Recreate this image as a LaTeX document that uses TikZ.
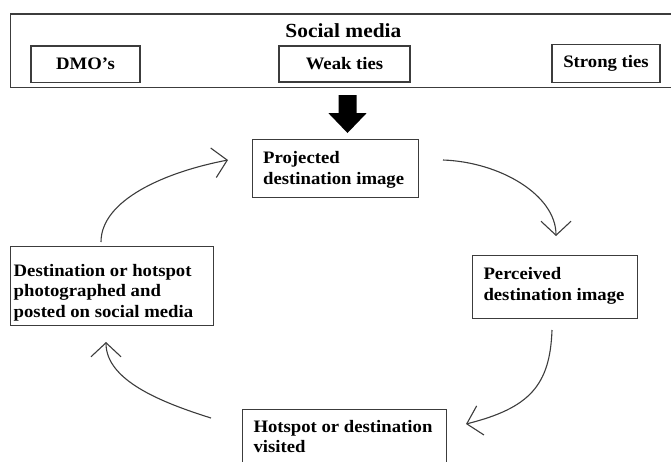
\documentclass[tikz,border=0pt]{standalone}
\usepackage{fontspec}
\setmainfont{Liberation Serif}[FakeStretch=1.07]
\usetikzlibrary{arrows.meta}
\definecolor{edge}{HTML}{3C3C3C}
\begin{document}
\begin{tikzpicture}[x=1pt,y=-1pt,
  frame/.style={draw=edge, line width=1.3pt, rectangle, inner sep=0pt},
  boxtxt/.style={inner sep=0pt, align=left, anchor=north west,
    font=\bfseries\fontsize{17.5}{20.5}\selectfont},
  tag/.style={frame, font=\bfseries\fontsize{17.5}{20.5}\selectfont},
  flow/.style={draw=edge, line width=1.1pt,
    -{Straight Barb[length=14pt,width=30pt]}}
]
\useasboundingbox (0,0) rectangle (671,461);
\clip (0,0) rectangle (671,461);

% social media banner with its three sources
\node[frame, anchor=north west, minimum width=670pt, minimum height=73.4pt] (sm) at (10,13.3) {};
\node[font=\bfseries\fontsize{20}{24}\selectfont, anchor=base, inner sep=0pt] (smtitle) at (343.4,37.3) {Social media};
\node[tag, minimum width=109pt, minimum height=36.5pt] (dmo) at (85.5,64.2) {DMO’s};
\node[tag, minimum width=131pt, minimum height=36pt] (weak) at (344.5,64) {Weak ties};
\node[tag, minimum width=108pt, minimum height=38pt] (strong) at (606,63.3) {Strong ties};

% block arrow from the banner to the projected image
\fill[black] (338.5,95) -- (356.5,95) -- (356.5,113) -- (366.7,113) -- (347.5,133)
  -- (328.3,113) -- (338.5,113) -- cycle;

% the four stages of the cycle
\node[frame, anchor=north west, minimum width=166pt, minimum height=58pt] (proj) at (252,139) {};
\node[boxtxt] (projtxt) at (263,151.4) {Projected\\destination image};

\node[frame, anchor=north west, minimum width=165pt, minimum height=63pt] (perc) at (472,255) {};
\node[boxtxt] (perctxt) at (483.3,267.4) {Perceived\\destination image};

\node[frame, anchor=north west, minimum width=204pt, minimum height=70pt] (hot) at (242,409) {};
\node[boxtxt] (hottxt) at (253.3,419.8) {Hotspot or destination\\visited};

\node[frame, anchor=north west, minimum width=203.5pt, minimum height=79pt] (dest) at (9.5,246) {};
\node[boxtxt] (desttxt) at (13.5,264.1) {Destination or hotspot\\photographed and\\posted on social media};

% curved arrows closing the cycle
\coordinate (p1) at (443,160);
\coordinate (q1) at (556,236);
\coordinate (p2) at (552,330);
\coordinate (q2) at (466,424);
\coordinate (p3) at (211,418);
\coordinate (q3) at (106,342);
\coordinate (p4) at (101,242);
\coordinate (q4) at (228,160);

\draw[flow] (p1) .. controls (500,162) and (556,195) .. (q1);
\draw[flow] (p2) .. controls (550,385) and (530,408) .. (q2);
\draw[flow] (p3) .. controls (160,402) and (106,380) .. (q3);
\draw[flow] (p4) .. controls (101,200) and (165,172) .. (q4);
\end{tikzpicture}
\end{document}
